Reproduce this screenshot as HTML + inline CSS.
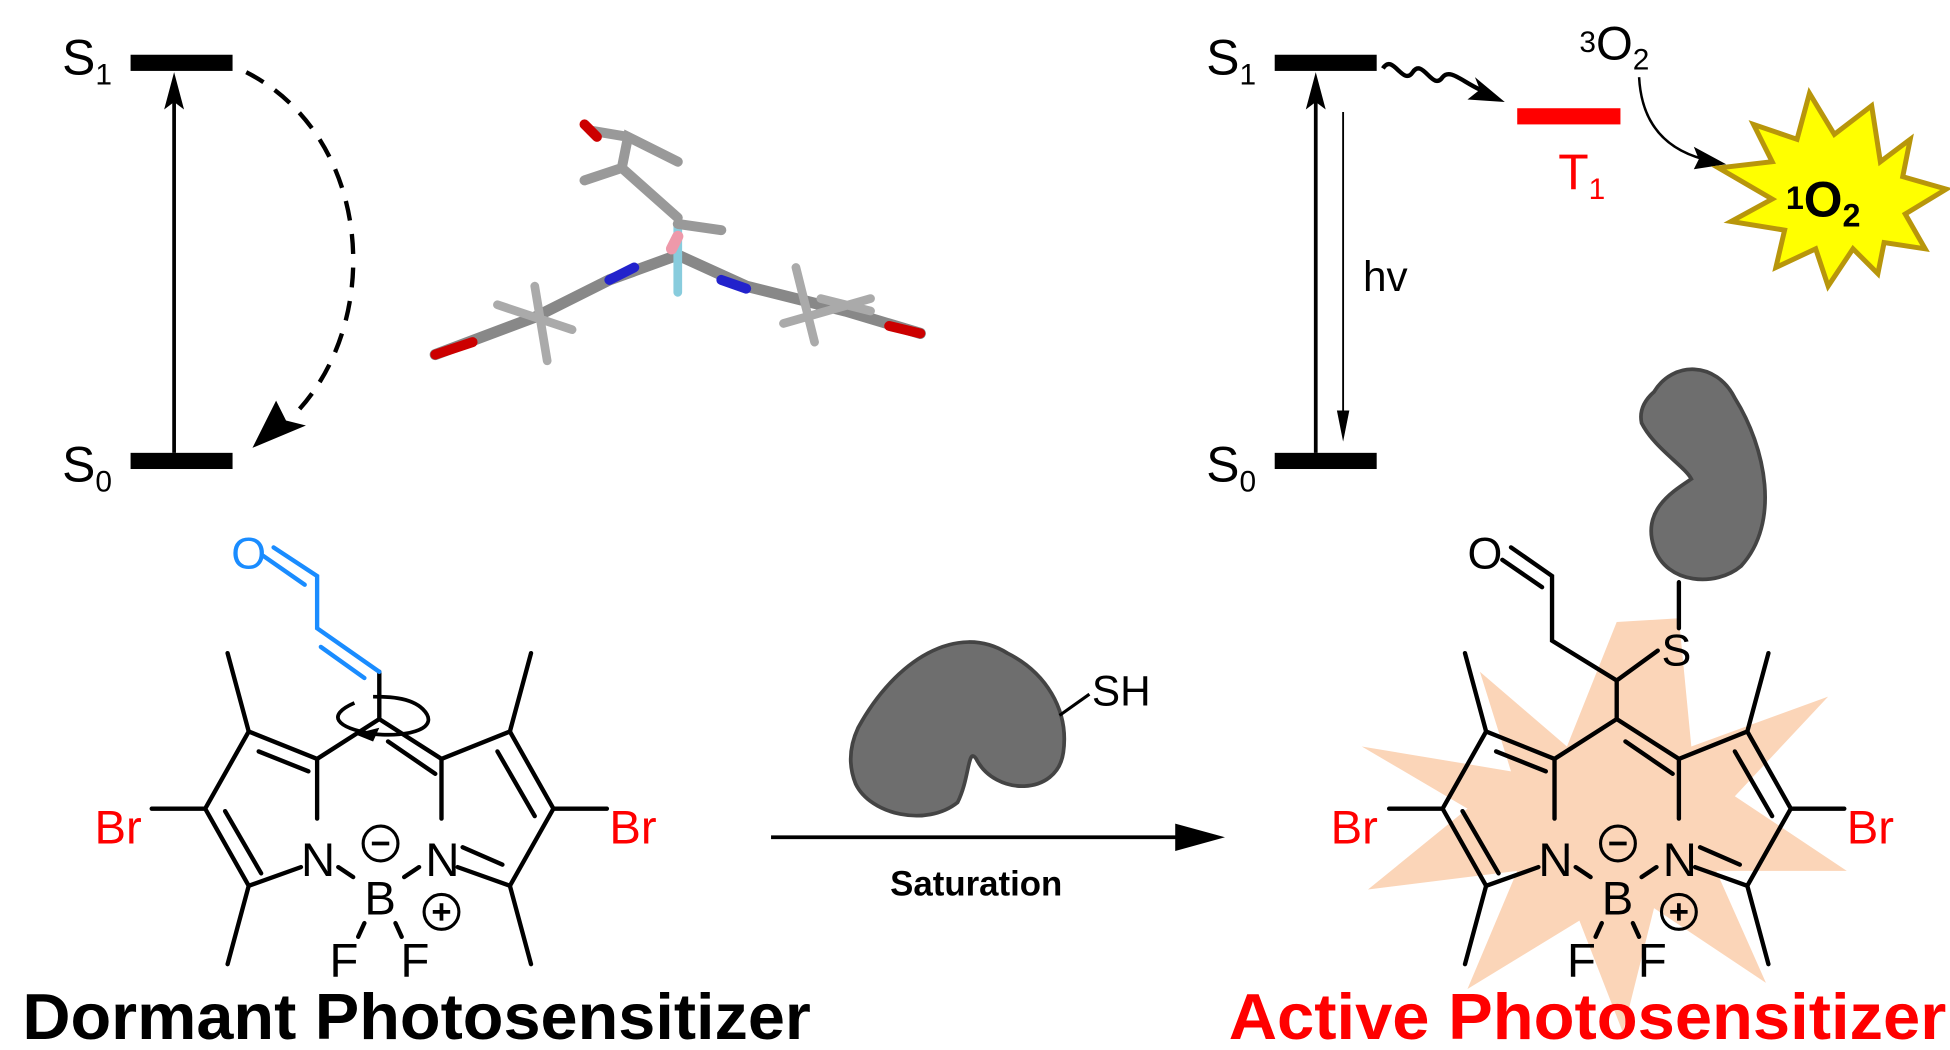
<!DOCTYPE html>
<html><head><meta charset="utf-8"><style>
html,body{margin:0;padding:0;background:#fff;}
svg{display:block;}
text{font-family:"Liberation Sans",Arial,sans-serif;}
</style></head><body>
<svg width="1950" height="1050" viewBox="0 0 1568 844" preserveAspectRatio="none" xmlns="http://www.w3.org/2000/svg">
<!-- Left Jablonski -->
<rect x="105" y="44" width="82" height="13" fill="#000"/>
<rect x="105" y="364" width="82" height="13" fill="#000"/>
<text x="50" y="60" font-size="40">S<tspan font-size="24" dy="8">1</tspan></text>
<text x="50" y="387" font-size="40">S<tspan font-size="24" dy="8">0</tspan></text>
<line x1="140" y1="364" x2="140" y2="75" stroke="#000" stroke-width="3"/>
<path d="M140,58 L148,88 L140,82 L132,88z" fill="#000"/>
<path d="M198,58 C300,110 310,260 235,335" fill="none" stroke="#000" stroke-width="3.5" stroke-dasharray="16,11"/>
<path d="M203,360 L222,322 L230,338 L246,342z" fill="#000"/>
<!-- 3D molecule approx -->
<g stroke-linecap="round" fill="none">
<path d="M350,285 L430,255 L490,225 L545,205 L600,230 L680,250 L740,268" stroke="#888" stroke-width="9"/>
<path d="M350,285 L380,275" stroke="#c00" stroke-width="8"/>
<path d="M715,262 L740,268" stroke="#c00" stroke-width="8"/>
<path d="M490,225 L510,215" stroke="#22c" stroke-width="8"/>
<path d="M580,225 L600,232" stroke="#22c" stroke-width="8"/>
<path d="M545,205 L545,235" stroke="#8cd" stroke-width="7"/>
<path d="M545,205 L545,180" stroke="#8cd" stroke-width="7"/>
<path d="M540,200 L545,190" stroke="#e9a" stroke-width="9"/>
<path d="M545,175 L500,135 L505,110 L545,130 M505,110 L475,105 M470,145 L500,135 M545,180 L580,185" stroke="#999" stroke-width="8"/>
<path d="M470,100 L480,110" stroke="#c00" stroke-width="8"/>
<path d="M400,245 L460,265 M430,230 L440,290 M640,215 L655,275 M660,240 L700,250 M630,260 L700,240" stroke="#aaa" stroke-width="7"/>
</g>
<!-- Right Jablonski -->
<rect x="1025" y="44" width="82" height="13" fill="#000"/>
<rect x="1025" y="364" width="82" height="13" fill="#000"/>
<text x="970" y="60" font-size="40">S<tspan font-size="24" dy="8">1</tspan></text>
<text x="970" y="387" font-size="40">S<tspan font-size="24" dy="8">0</tspan></text>
<line x1="1058" y1="364" x2="1058" y2="75" stroke="#000" stroke-width="3"/>
<path d="M1058,58 L1066,88 L1058,82 L1050,88z" fill="#000"/>
<line x1="1080" y1="90" x2="1080" y2="340" stroke="#000" stroke-width="1.5"/>
<path d="M1080,355 L1075,330 L1085,330z" fill="#000"/>
<text x="1096" y="234" font-size="34">hv</text>
<path d="M1112,55 C1120,42 1128,70 1136,58 C1144,46 1152,74 1160,62 C1166,55 1175,65 1190,72" fill="none" stroke="#000" stroke-width="3.5"/>
<path d="M1210,82 L1180,80 L1190,72 L1186,62z" fill="#000"/>
<rect x="1220" y="87" width="83" height="13" fill="#f00"/>
<text x="1253" y="152" font-size="40" fill="#f00">T<tspan font-size="24" dy="8">1</tspan></text>
<text x="1270" y="42" font-size="24">3<tspan font-size="38" dy="6">O</tspan><tspan font-size="24" dy="8">2</tspan></text>
<path d="M1318,62 C1320,100 1340,120 1370,128" fill="none" stroke="#000" stroke-width="2"/>
<path d="M1388,132 L1362,136 L1366,128 L1362,118z" fill="#000"/>
<polygon points="1505,85 1512,130 1536,112 1530,142 1565,152 1532,172 1548,200 1515,195 1510,220 1490,200 1470,230 1460,200 1428,215 1435,185 1392,178 1425,160 1382,135 1425,130 1410,100 1445,112 1455,75 1475,108" fill="#ff0" stroke="#b8960b" stroke-width="4"/>
<text x="1436" y="168" font-size="26" font-weight="bold">1<tspan font-size="40" dy="6">O</tspan><tspan font-size="26" dy="8">2</tspan></text>
<!-- Left BODIPY -->
<g stroke="#000" stroke-width="3.5" fill="none" stroke-linecap="round">
<path d="M305,578 L255,610 L200,588 L165,650 L200,712 L242,697"/>
<path d="M255,610 L255,658"/>
<path d="M305,578 L355,610 L410,588 L445,650 L410,712 L368,697"/>
<path d="M355,610 L355,658"/>
<path d="M208,604 L248,620 M181,652 L210,702 M312,596 L350,622 M400,604 L430,656 M372,681 L404,695"/>
<path d="M200,588 L183,525 M200,712 L183,775 M410,588 L427,525 M410,712 L427,775"/>
<path d="M165,650 L122,650 M445,650 L488,650"/>
<path d="M272,697 L284,705 M325,705 L337,697 M293,742 L288,753 M318,742 L323,753"/>
<path d="M305,578 L305,540"/>
</g>
<g stroke="#1a8cff" stroke-width="3.5" fill="none" stroke-linecap="round">
<path d="M305,540 L255,505 L255,463 L220,440 M258,520 L293,545 M212,447 L245,470"/>
</g>
<text x="186" y="457" font-size="36" fill="#1a8cff">O</text>
<path d="M285,565 C262,575 270,585 300,590 C330,593 355,585 340,570 C330,560 310,560 300,560" fill="none" stroke="#000" stroke-width="3"/>
<path d="M285,590 L305,585 L300,596z" fill="#000"/>
<text x="76" y="678" font-size="38" fill="#f00">Br</text>
<text x="490" y="678" font-size="38" fill="#f00">Br</text>
<text x="242" y="704" font-size="38">N</text>
<text x="342" y="704" font-size="38">N</text>
<text x="293" y="735" font-size="38">B</text>
<text x="265" y="785" font-size="38">F</text>
<text x="322" y="785" font-size="38">F</text>
<circle cx="306" cy="678" r="14" fill="none" stroke="#000" stroke-width="2.5"/><line x1="299" y1="678" x2="313" y2="678" stroke="#000" stroke-width="3"/>
<circle cx="355" cy="733" r="14" fill="none" stroke="#000" stroke-width="2.5"/><path d="M348,733 L362,733 M355,726 L355,740" stroke="#000" stroke-width="3"/>
<text x="18" y="835" font-size="52" font-weight="bold" textLength="634" lengthAdjust="spacingAndGlyphs">Dormant Photosensitizer</text>
<!-- middle -->
<path d="M690,585 C720,530 770,500 810,525 C840,540 860,570 855,605 C850,640 800,640 785,610 C778,600 780,625 770,645 C745,665 700,655 688,630 C682,615 683,600 690,585z" fill="#6e6e6e" stroke="#444" stroke-width="3"/>
<path d="M852,575 L876,558" stroke="#000" stroke-width="2.5"/>
<text x="878" y="567" font-size="34">SH</text>
<line x1="620" y1="673" x2="950" y2="673" stroke="#000" stroke-width="3"/>
<path d="M985,673 L945,662 L945,684z" fill="#000"/>
<text x="785" y="720" font-size="28" font-weight="bold" text-anchor="middle">Saturation</text>
<!-- Right BODIPY -->
<polygon points="1350,497 1360,600 1470,560 1395,640 1485,700 1380,700 1420,790 1330,730 1305,830 1270,740 1180,795 1220,700 1100,715 1180,650 1095,600 1215,620 1190,540 1260,600 1300,500" fill="#fbd5b8"/>
<g stroke="#000" stroke-width="3.5" fill="none" stroke-linecap="round">
<g transform="translate(995,0)">
<path d="M305,578 L255,610 L200,588 L165,650 L200,712 L242,697"/>
<path d="M255,610 L255,658"/>
<path d="M305,578 L355,610 L410,588 L445,650 L410,712 L368,697"/>
<path d="M355,610 L355,658"/>
<path d="M208,604 L248,620 M181,652 L210,702 M312,596 L350,622 M400,604 L430,656 M372,681 L404,695"/>
<path d="M200,588 L183,525 M200,712 L183,775 M410,588 L427,525 M410,712 L427,775"/>
<path d="M165,650 L122,650 M445,650 L488,650"/>
<path d="M272,697 L284,705 M325,705 L337,697 M293,742 L288,753 M318,742 L323,753"/>
</g>
<path d="M1300,578 L1300,547 L1248,515 L1248,463 L1215,440 M1208,450 L1240,472 M1300,547 L1333,523 M1350,505 L1350,468"/>
</g>
<text x="1180" y="457" font-size="36">O</text>
<text x="1336" y="535" font-size="36">S</text>
<path d="M1330,315 C1345,290 1380,290 1395,320 C1420,360 1432,420 1400,455 C1380,472 1340,470 1330,440 C1320,410 1345,395 1360,385 C1355,375 1330,360 1320,340 C1318,330 1322,322 1330,315z" fill="#6e6e6e" stroke="#444" stroke-width="3"/>
<text x="1070" y="678" font-size="38" fill="#f00">Br</text>
<text x="1485" y="678" font-size="38" fill="#f00">Br</text>
<text x="1237" y="704" font-size="38">N</text>
<text x="1337" y="704" font-size="38">N</text>
<text x="1288" y="735" font-size="38">B</text>
<text x="1260" y="785" font-size="38">F</text>
<text x="1317" y="785" font-size="38">F</text>
<circle cx="1301" cy="678" r="14" fill="none" stroke="#000" stroke-width="2.5"/><line x1="1294" y1="678" x2="1308" y2="678" stroke="#000" stroke-width="3"/>
<circle cx="1350" cy="733" r="14" fill="none" stroke="#000" stroke-width="2.5"/><path d="M1343,733 L1357,733 M1350,726 L1350,740" stroke="#000" stroke-width="3"/>
<text x="988" y="835" font-size="52" font-weight="bold" fill="#f00" textLength="577" lengthAdjust="spacingAndGlyphs">Active Photosensitizer</text>
</svg>
</body></html>
